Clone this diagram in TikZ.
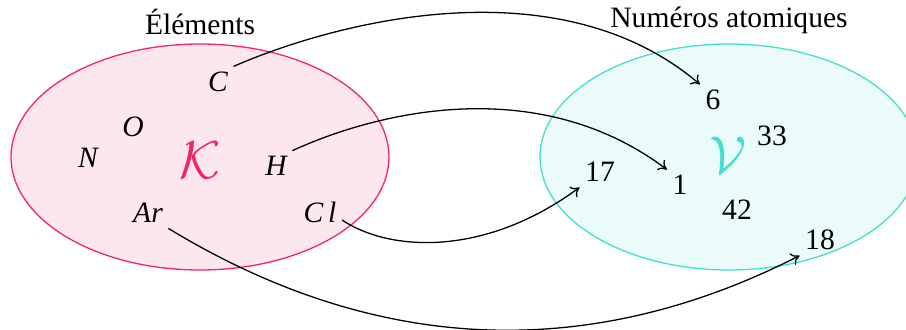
\documentclass[tikz,border=0pt]{standalone}
\usepackage{fontspec}
\setmainfont{Liberation Serif}
\usetikzlibrary{shapes.geometric,arrows.meta}
\definecolor{pinkline}{RGB}{245,35,100}
\definecolor{pinkfill}{RGB}{253,231,239}
\definecolor{turqline}{RGB}{64,224,208}
\definecolor{turqfill}{RGB}{234,251,249}
\tikzset{
  lbl/.style={inner sep=2pt, font=\fontsize{11.5}{14}\selectfont},
  el/.style={inner sep=2pt, font=\fontsize{11.5}{14}\selectfont\itshape},
  setname/.style={inner sep=0pt, font=\fontsize{22}{26}\selectfont},
  conn/.style={-{To[length=3.2pt,width=5pt]}, black, line width=0.5pt},
}
\begin{document}
\begin{tikzpicture}[x=0.389pt,y=-0.389pt]
\useasboundingbox (0,0) rectangle (906,330);
% sets
\draw[pinkline, fill=pinkfill, line width=0.5pt] (200,157) ellipse [x radius=189, y radius=113];
\draw[turqline, fill=turqfill, line width=0.5pt] (729,157) ellipse [x radius=189, y radius=113];
% titles
\node[lbl] (tK) at (200,22) {Éléments};
\node[lbl] (tV) at (729,20) {Numéros atomiques};
% set names
\node[setname, text=pinkline] (K) at (200,160) {$\mathcal{K}$};
\node[setname, text=turqline] (V) at (728,155) {$\mathcal{V}$};
% elements
\node[el] (C) at (218,82) {C};
\node[el] (O) at (133,127) {O};
\node[el] (N) at (88,158) {N};
\node[el] (H) at (276,166) {H};
\node[el] (Ar) at (148,213) {Ar};
\node[el] (Cl) at (320,212) {C\,l};
% numbers
\node[lbl] (n6) at (713,100) {6};
\node[lbl] (n33) at (772,136) {33};
\node[lbl] (n17) at (600,172) {17};
\node[lbl] (n1) at (680,185) {1};
\node[lbl] (n42) at (737,210) {42};
\node[lbl] (n18) at (820,240) {18};
% connectors
\draw[conn] (C.north east) .. controls (340,20) and (560,-35) .. (n6.north west);
\draw[conn] (H.north east) .. controls (381,110) and (540,74) .. (n1.north west);
\draw[conn] (Cl.-20) .. controls (390,252) and (485,257) .. (n17.south west);
\draw[conn] (Ar.south east) .. controls (368,350) and (581,367) .. (n18.south west);
\end{tikzpicture}
\end{document}
